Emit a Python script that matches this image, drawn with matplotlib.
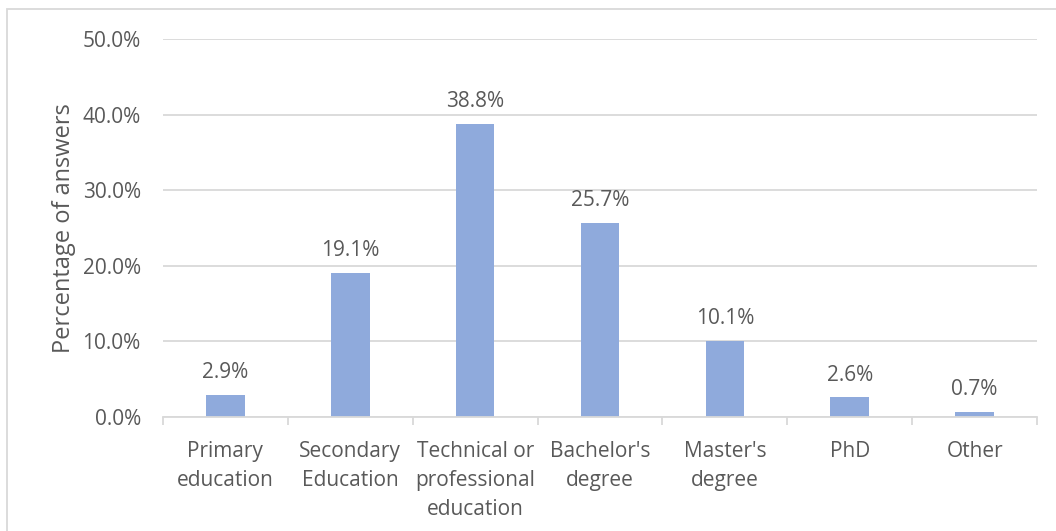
import matplotlib.pyplot as plt
from matplotlib.patches import Rectangle
from matplotlib.ticker import FuncFormatter, FixedLocator

categories = ["Primary\neducation", "Secondary\nEducation", "Technical or\nprofessional\neducation",
              "Bachelor's\ndegree", "Master's\ndegree", "PhD", "Other"]
values = [2.9, 19.1, 38.8, 25.7, 10.1, 2.6, 0.7]
y_ticks = [0, 10, 20, 30, 40, 50]

plt.rcParams['font.family'] = ['Open Sans', 'DejaVu Sans']
text_color = "#595959"
bar_color = "#8FAADC"
grid_color = "#D9D9D9"
fs = 15

fig = plt.figure(figsize=(10.56, 5.31), dpi=100)
ax = fig.add_axes([163 / 1056, (531 - 417) / 531, (1037 - 163) / 1056, (417 - 39) / 531])

x = list(range(len(categories)))
ax.bar(x, values, width=0.31, color=bar_color, zorder=3)
for xi, v in zip(x, values):
    ax.annotate(f"{v:.1f}%", (xi, v), xytext=(0, 8.5), textcoords="offset points",
                ha="center", va="bottom", fontsize=fs, color=text_color)

ax.set_xlim(-0.5, len(categories) - 0.5)
ax.set_ylim(0, 50)
ax.set_yticks(y_ticks)
ax.yaxis.set_major_formatter(FuncFormatter(lambda v, p: f"{v:.1f}%"))
ax.grid(axis="y", color=grid_color, linewidth=1.3, zorder=0)
ax.tick_params(axis="y", length=0, pad=16, labelsize=fs, labelcolor=text_color)

ax.set_xticks(x)
ax.set_xticklabels(categories, fontsize=fs, color=text_color, linespacing=1.5)
ax.tick_params(axis="x", which="major", length=0, pad=17.5)
ax.xaxis.set_minor_locator(FixedLocator([i - 0.5 for i in range(len(categories) + 1)]))
ax.tick_params(axis="x", which="minor", length=6, width=1.3, color=grid_color, direction="out")

for side in ["top", "right", "left"]:
    ax.spines[side].set_visible(False)
ax.spines["bottom"].set_color(grid_color)
ax.spines["bottom"].set_linewidth(1.3)
ax.spines["bottom"].set_zorder(4)

ax.set_ylabel("Percentage of answers", fontsize=17, color=text_color, labelpad=5)

fig.patches.append(Rectangle((7 / 1056, -0.1), 1.2, (531 - 9) / 531 + 0.1,
                             transform=fig.transFigure, fill=False,
                             edgecolor=grid_color, linewidth=1.3))

fig.savefig("out.png", dpi=100)
